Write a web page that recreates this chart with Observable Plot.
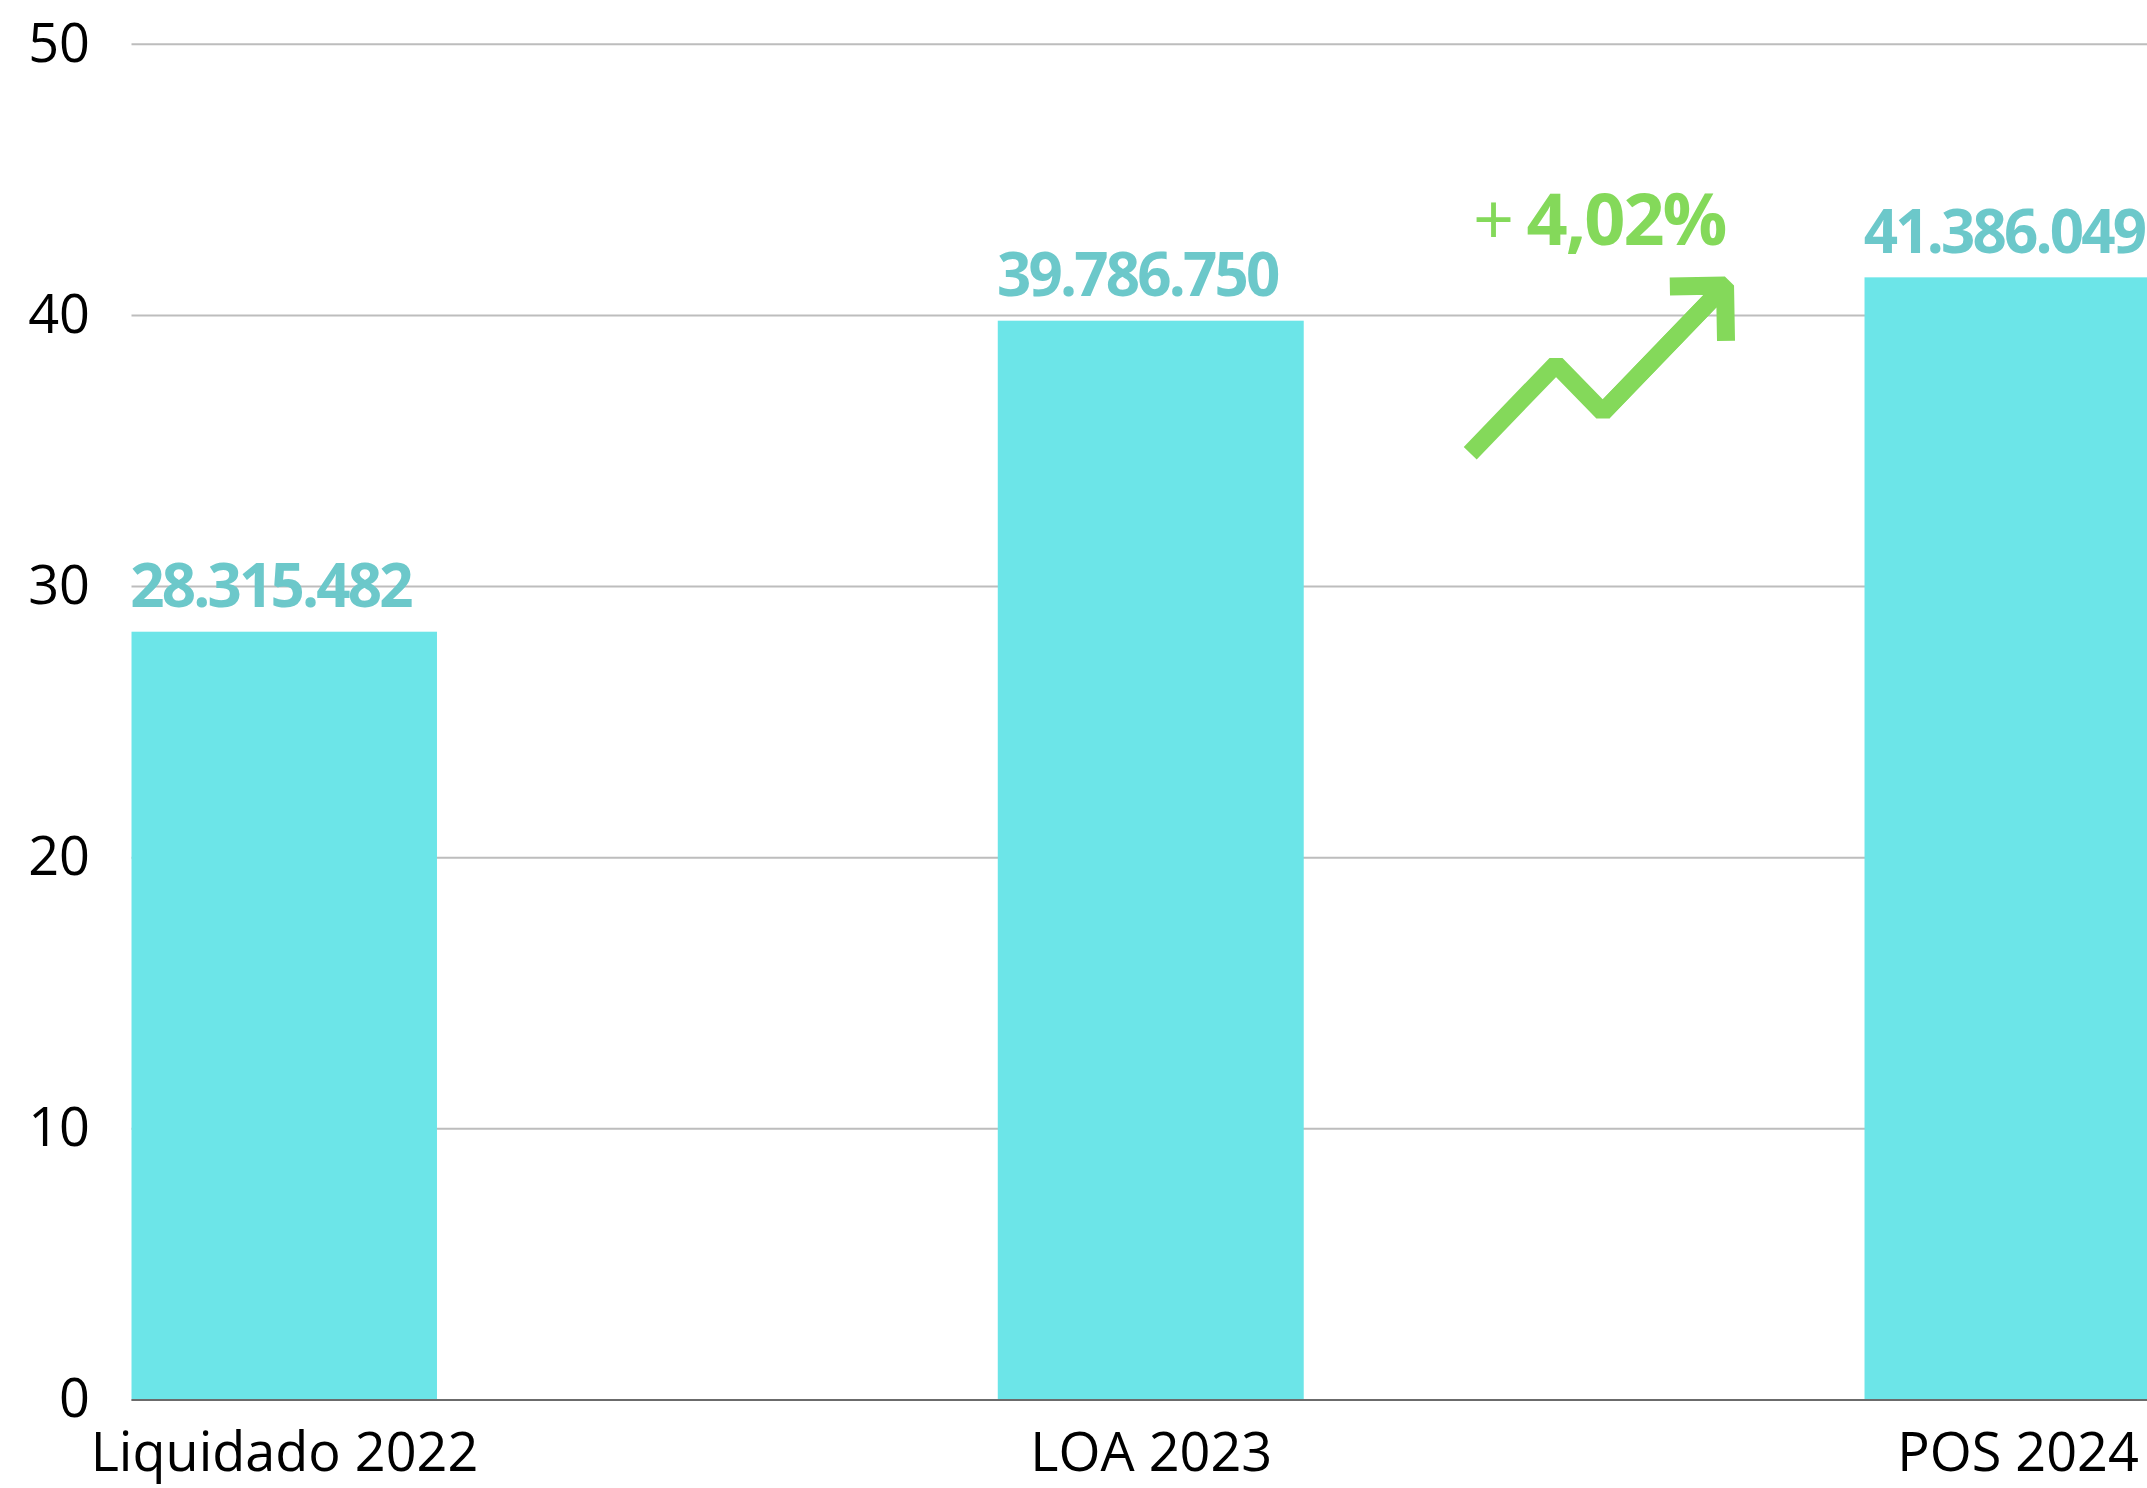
<!DOCTYPE html>
<html>
<head>
<meta charset="utf-8">
<script src="https://cdn.jsdelivr.net/npm/d3@7"></script>
<script src="https://cdn.jsdelivr.net/npm/@observablehq/plot@0.6"></script>
<style>
html, body { margin: 0; padding: 0; background: #ffffff; overflow: hidden; }
#chart svg { display: block; }
</style>
</head>
<body>
<div id="chart"></div>
<script>
// ---- data ----
const categories = ["Liquidado 2022", "LOA 2023", "POS 2024"];
const values = [28315482, 39786750, 41386049];
const yTicks = [0, 10, 20, 30, 40, 50];

// ---- decorative trend icon (shape in chart units) ----
const trendIconX = [1.368, 1.467, 1.521, 1.662];
const trendIconY = [34.92, 38.20, 36.43, 41.10];

const BAR = "#6ce5e8";
const LABEL = "#6cc8ca";
const GREEN = "#84d95a";

const ptBR = d3.formatLocale({decimal: ",", thousands: ".", grouping: [3], currency: ["", ""]});
const fmtInt = ptBR.format(",d");
const fmtPct = ptBR.format(".2%");

const data = categories.map((c, i) => ({i, c, v: values[i] / 1e6}));
const change = values[2] / values[1] - 1;
const trend = trendIconX.map((x, k) => ({x, y: trendIconY[k]}));
const halfBar = 0.1765;

const chart = Plot.plot({
  width: 2147,
  height: 1488,
  marginTop: 43.8,
  marginBottom: 88.6,
  marginLeft: 131.5,
  marginRight: 0,
  style: {fontFamily: "'Open Sans', sans-serif", fontSize: "54px", background: "#ffffff", color: "#000000"},
  x: {type: "linear", domain: [0, 2], range: [284, 2017.5]},
  y: {domain: [0, 50]},
  marks: [
    Plot.gridY(yTicks, {stroke: "#bdbdbd", strokeOpacity: 1, strokeWidth: 2}),
    Plot.rect(data, {x1: d => d.i - halfBar, x2: d => d.i + halfBar, y1: 0, y2: "v", fill: BAR, clip: true}),
    Plot.ruleY([0], {stroke: "#6b6b6b", strokeWidth: 2}),
    Plot.axisY({ticks: yTicks, tickSize: 0, tickPadding: 42, fontSize: 54, label: null}),
    Plot.axisX({ticks: [0, 1, 2], tickFormat: i => categories[i], tickSize: 0, tickPadding: 33, fontSize: 54, label: null}),
    Plot.text(data, {x: "i", y: "v", text: d => fmtInt(values[d.i]), fontSize: 60, fontWeight: 700, fill: LABEL, lineAnchor: "bottom", dy: -25, dx: -14}),
    Plot.line(trend, {x: "x", y: "y", stroke: GREEN, strokeWidth: 18, strokeLinejoin: "miter", strokeLinecap: "butt", curve: "linear"}),
    Plot.arrow([trend], {x1: d => d[2].x, y1: d => d[2].y, x2: d => d[3].x, y2: d => d[3].y, stroke: GREEN, strokeWidth: 18, headAngle: 90, headLength: 4.6, strokeLinecap: "butt", strokeLinejoin: "miter"}),
    Plot.text(["+"], {x: 1.395, y: 42.6, text: d => d, fontSize: 72, fontWeight: 400, fill: GREEN, lineAnchor: "bottom"}),
    Plot.text([fmtPct(change)], {x: 1.433, y: 42.6, text: d => d, textAnchor: "start", fontSize: 72, fontWeight: 700, fill: GREEN, lineAnchor: "bottom"})
  ]
});

// tighten letter spacing on the bold annotation labels
chart.querySelectorAll('g[aria-label="text"]').forEach(g => {
  const fs = g.getAttribute("font-size");
  if (fs === "60") g.setAttribute("letter-spacing", "-2.8");
  else if (fs === "72" && g.getAttribute("font-weight") === "700") g.setAttribute("letter-spacing", "-2");
});

document.getElementById("chart").appendChild(chart);
</script>
</body>
</html>
